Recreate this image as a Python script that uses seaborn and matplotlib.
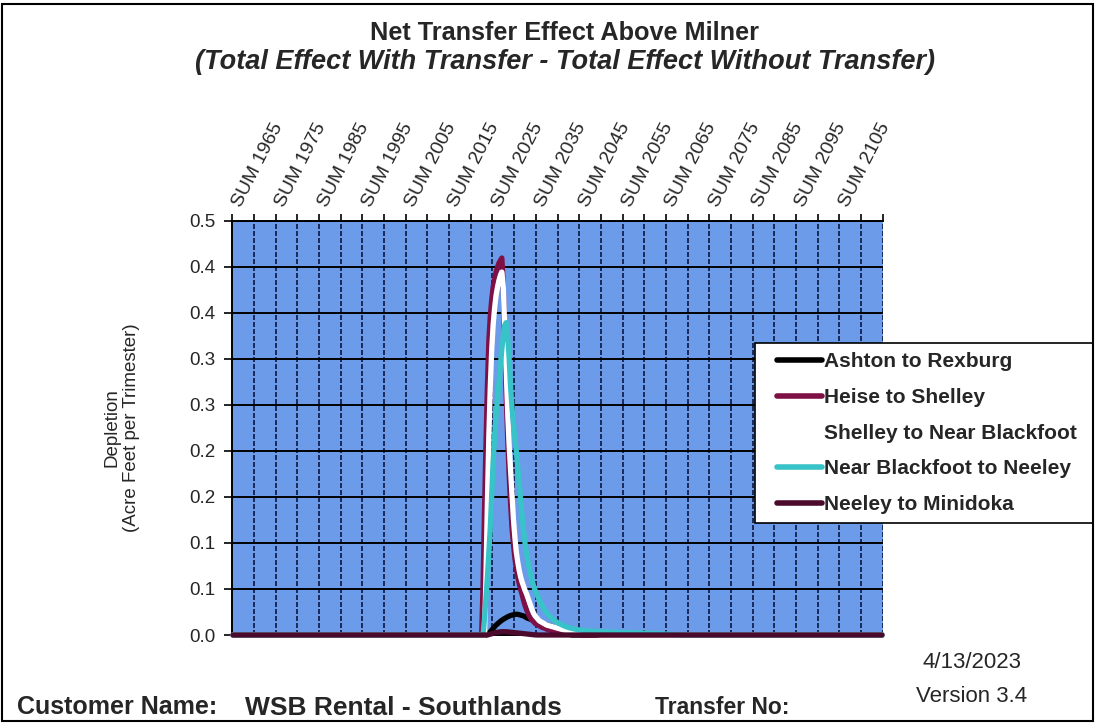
import numpy as np
import pandas as pd
import matplotlib
matplotlib.use("Agg")
import matplotlib.pyplot as plt
from matplotlib.lines import Line2D
from matplotlib.patches import Rectangle
from matplotlib.legend_handler import HandlerLine2D
from matplotlib.transforms import ScaledTranslation
import seaborn as sns

# --- data: trimester depletion, 150 years x 3 trimesters ---
N_TRI = 450

tick_labels = ["SUM 1965", "SUM 1975", "SUM 1985", "SUM 1995", "SUM 2005",
               "SUM 2015", "SUM 2025", "SUM 2035", "SUM 2045", "SUM 2055",
               "SUM 2065", "SUM 2075", "SUM 2085", "SUM 2095", "SUM 2105"]

series_names = ["Ashton to Rexburg", "Heise to Shelley", "Shelley to Near Blackfoot",
                "Near Blackfoot to Neeley", "Neeley to Minidoka"]

# non-zero stretch of each reach (value per trimester, starting at *_start)
ashton_start = 175
ashton = [0.000, 0.001, 0.002, 0.004, 0.006, 0.008, 0.010, 0.012, 0.0135, 0.015,
          0.0165, 0.0178, 0.019, 0.020, 0.021, 0.022, 0.0228, 0.0235, 0.024, 0.0245,
          0.025, 0.025, 0.025, 0.0245, 0.024, 0.0235, 0.023, 0.022, 0.021, 0.020,
          0.0195, 0.019, 0.018, 0.0175, 0.017, 0.016, 0.0155, 0.015, 0.0145, 0.014,
          0.013, 0.0125, 0.012, 0.0115, 0.011, 0.0105, 0.010, 0.009, 0.008, 0.007,
          0.006, 0.005, 0.0042, 0.0035, 0.0028, 0.0022, 0.0016, 0.0011, 0.0006, 0.0002]

heise_start = 172
heise = [0.000, 0.060, 0.150, 0.230, 0.300, 0.355, 0.385, 0.405, 0.420, 0.430,
         0.438, 0.444, 0.449, 0.452, 0.455, 0.420, 0.350, 0.290, 0.240, 0.195,
         0.160, 0.130, 0.110, 0.093, 0.080, 0.070, 0.062, 0.055, 0.049, 0.042,
         0.036, 0.031, 0.027, 0.023, 0.020, 0.018, 0.016, 0.014, 0.013, 0.012,
         0.011, 0.010, 0.009, 0.0085, 0.008, 0.007, 0.0065, 0.006, 0.0055, 0.005,
         0.0045, 0.004, 0.004, 0.0035, 0.003, 0.003, 0.0025, 0.0025, 0.002, 0.002,
         0.002, 0.0015, 0.0015, 0.0015, 0.001, 0.001, 0.001, 0.001, 0.0005]

shelley_start = 174
shelley = [0.000, 0.070, 0.160, 0.240, 0.300, 0.345, 0.375, 0.395, 0.410, 0.420,
           0.428, 0.434, 0.438, 0.420, 0.370, 0.320, 0.270, 0.230, 0.200, 0.170,
           0.140, 0.118, 0.100, 0.088, 0.078, 0.070, 0.064, 0.059, 0.054, 0.050,
           0.045, 0.040, 0.035, 0.030, 0.026, 0.023, 0.021, 0.019, 0.017, 0.016,
           0.015, 0.014, 0.013, 0.012, 0.0115, 0.011, 0.0105, 0.010, 0.0095, 0.009,
           0.0085, 0.008, 0.0075, 0.007, 0.0065, 0.006, 0.0055, 0.005, 0.0048, 0.0045,
           0.0042, 0.004, 0.0037, 0.0035, 0.0032, 0.003, 0.0028, 0.0026, 0.0024, 0.0022,
           0.002, 0.0018, 0.0016, 0.0014, 0.0012, 0.001, 0.0008, 0.0006, 0.0004, 0.0002]

blackfoot_start = 173
blackfoot = [0.000, 0.020, 0.045, 0.070, 0.100, 0.130, 0.170, 0.210, 0.240, 0.265,
             0.285, 0.305, 0.325, 0.345, 0.362, 0.374, 0.377, 0.362, 0.335, 0.300,
             0.275, 0.255, 0.237, 0.222, 0.203, 0.183, 0.163, 0.143, 0.126, 0.111,
             0.099, 0.089, 0.080, 0.072, 0.065, 0.059, 0.054, 0.050, 0.046, 0.042,
             0.038, 0.035, 0.032, 0.029, 0.027, 0.025, 0.023, 0.021, 0.0195, 0.018,
             0.0167, 0.0155, 0.0145, 0.0135, 0.0126, 0.0118, 0.011, 0.0103, 0.0097, 0.0091,
             0.0086, 0.0081, 0.0077, 0.0073, 0.0069, 0.0066, 0.0063, 0.006, 0.0058, 0.0056,
             0.0054, 0.0052, 0.005, 0.0049, 0.0048, 0.0047, 0.0046, 0.0045, 0.0044, 0.0043,
             0.0042, 0.0041, 0.004, 0.004, 0.0039, 0.0038, 0.0037, 0.0036, 0.0036, 0.0035,
             0.0034, 0.0034, 0.0033, 0.0032, 0.0032, 0.0031, 0.003, 0.003, 0.0029, 0.0029,
             0.0028, 0.0028, 0.0027, 0.0027, 0.0026, 0.0026, 0.0025, 0.0025, 0.0024, 0.0024,
             0.0023, 0.0023, 0.0022, 0.0022, 0.0021, 0.0021, 0.002, 0.002, 0.0019, 0.0018,
             0.0017, 0.0016, 0.0015, 0.0014, 0.0013, 0.0012, 0.0011, 0.001, 0.0009, 0.0008,
             0.0007, 0.0006, 0.0005, 0.0004, 0.0003, 0.0002, 0.0001]

minidoka_start = 176
minidoka = [0.0, 0.0005, 0.001, 0.0015, 0.002, 0.0025, 0.003, 0.0033, 0.0036, 0.0038,
            0.004, 0.004, 0.004, 0.0039, 0.0038, 0.0036, 0.0034, 0.0032, 0.003, 0.0028,
            0.0026, 0.0024, 0.0022, 0.002, 0.0018, 0.0016, 0.0014, 0.0012, 0.001, 0.0008,
            0.0006, 0.0004, 0.0003, 0.0001]


def pad(start, vals):
    # rest of the 450 trimesters are zero
    return [0.0] * start + vals + [0.0] * (N_TRI - start - len(vals))


df = pd.DataFrame({
    "tri": np.tile(np.arange(N_TRI), len(series_names)),
    "series": np.repeat(series_names, N_TRI),
    "depl": np.concatenate([pad(ashton_start, ashton), pad(heise_start, heise),
                            pad(shelley_start, shelley), pad(blackfoot_start, blackfoot),
                            pad(minidoka_start, minidoka)]),
})

palette = {"Ashton to Rexburg": "#000000", "Heise to Shelley": "#7E1046",
           "Shelley to Near Blackfoot": "#FFFFFF", "Near Blackfoot to Neeley": "#38C3C8",
           "Neeley to Minidoka": "#4B0A2C"}

sns.set_theme(style="white")
plt.rcParams["font.family"] = ["Liberation Sans", "DejaVu Sans"]

W, H = 1095, 724
fig = plt.figure(figsize=(W / 100, H / 100), dpi=100)
ax = fig.add_axes([232.3 / W, 1 - 635 / H, 650.4 / W, 414.3 / H])
ax.set_facecolor("#6B9BE9")

sns.lineplot(data=df, x="tri", y="depl", hue="series", hue_order=series_names,
             palette=palette, lw=3.8, estimator=None, legend=False, ax=ax,
             clip_on=False, zorder=3)

# axes
ax.set_xlim(-0.5, N_TRI - 0.5)
ax.set_ylim(0, 0.5)
yt = np.linspace(0, 0.5, 10)
ax.set_yticks(yt)
ax.set_yticklabels([f"{v:.1f}" for v in yt])
xt = np.arange(-0.5, N_TRI, 15)
ax.set_xticks(xt)
xl = [tick_labels[k // 2] if k % 2 == 0 and k // 2 < len(tick_labels) else "" for k in range(len(xt))]
ax.set_xticklabels(xl)
ax.xaxis.tick_top()
ax.tick_params(axis="x", top=True, bottom=False, direction="out", length=5,
               width=1.2, color="black", labelsize=14, pad=4)
shift = ScaledTranslation(6 / 72, 0, fig.dpi_scale_trans)
for lbl in ax.get_xticklabels():
    lbl.set_rotation(63)
    lbl.set_ha("left")
    lbl.set_va("baseline")
    lbl.set_rotation_mode("anchor")
    lbl.set_transform(lbl.get_transform() + shift)
ax.tick_params(axis="y", left=True, direction="out", length=6, width=1.2,
               color="black", labelsize=13.5, pad=6)
ax.set_xlabel("")
ax.set_ylabel("")

ax.set_axisbelow(True)
ax.grid(axis="y", color="black", lw=1.4, ls="-")
ax.grid(axis="x", color="#0d1640", lw=1.2, ls=(0, (3, 1.2)))
for s in ["left", "top", "bottom"]:
    ax.spines[s].set_color("black")
    ax.spines[s].set_linewidth(1.4)
ax.spines["right"].set_visible(False)

# legend
handles = [Line2D([0], [0], color=palette[n], lw=4) for n in series_names]
leg = ax.legend(handles, series_names, loc="upper left",
                bbox_to_anchor=(755 / W, 1 - 524 / H, 338 / W, 181 / H),
                bbox_transform=fig.transFigure, mode="expand", frameon=True,
                fancybox=False, edgecolor="black", framealpha=1,
                prop=dict(weight="bold", size=15), handlelength=2.77,
                handletextpad=0.08, labelspacing=0.8, borderpad=0.45, borderaxespad=0,
                handler_map={Line2D: HandlerLine2D(xpad=0.6)})
leg.get_frame().set_linewidth(1.2)

# texts
fig.text(565 / W, 1 - 33 / H, "Net Transfer Effect Above Milner", ha="center",
         va="center", fontsize=18.2, weight="bold")
fig.text(565 / W, 1 - 62 / H, "(Total Effect With Transfer - Total Effect Without Transfer)",
         ha="center", va="center", fontsize=19.5, weight="bold", style="italic")
fig.text(122 / W, 1 - 428 / H, "Depletion\n(Acre Feet per Trimester)", ha="center",
         va="center", rotation=90, fontsize=13.5, multialignment="center")
fig.text(972 / W, 1 - 663 / H, "4/13/2023", ha="center", va="center", fontsize=16)
fig.text(972 / W, 1 - 696 / H, "Version 3.4", ha="center", va="center", fontsize=16)
fig.text(17 / W, 1 - 707 / H, "Customer Name:", ha="left", va="center", fontsize=18, weight="bold")
fig.text(245 / W, 1 - 708 / H, "WSB Rental - Southlands", ha="left", va="center",
         fontsize=19, weight="bold")
fig.text(655 / W, 1 - 707 / H, "Transfer No:", ha="left", va="center", fontsize=16.5, weight="bold")

# outer frame
fig.patches.append(Rectangle((2 / W, 3 / H), 1091 / W, 717 / H, transform=fig.transFigure,
                             fill=False, edgecolor="black", lw=1.5))

fig.savefig("out.png", dpi=100)
